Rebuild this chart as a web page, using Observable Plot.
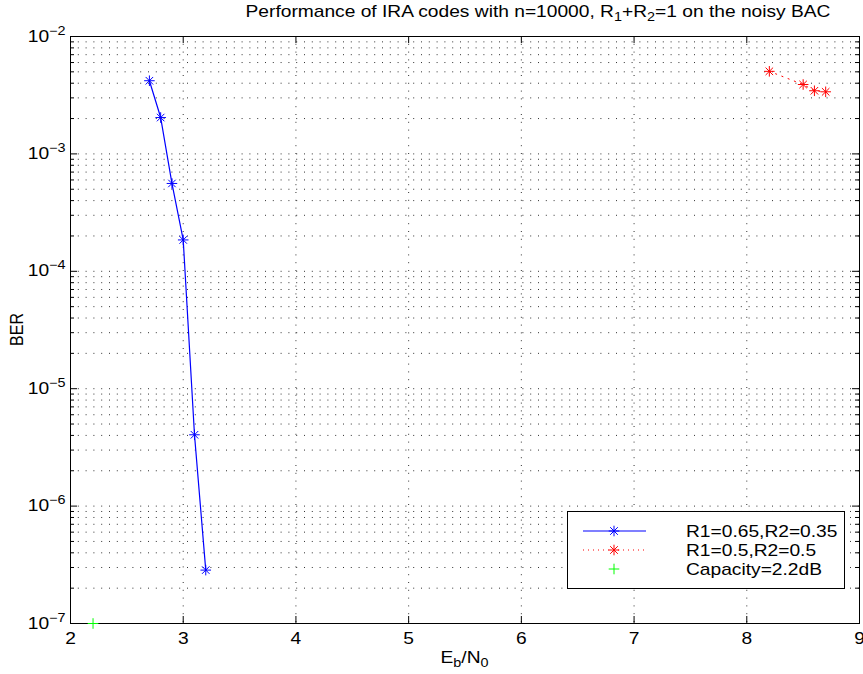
<!DOCTYPE html>
<html>
<head>
<meta charset="utf-8">
<script src="https://cdn.jsdelivr.net/npm/d3@7"></script>
<script src="https://cdn.jsdelivr.net/npm/@observablehq/plot@0.6"></script>
<style>
  body { margin: 0; background: #fff; }
  #chart svg { display: block; }
</style>
</head>
<body>
<div id="chart"></div>
<script>
// Eb/N0 (dB) and bit error rate of the two IRA code designs
const ebn0A = [2.7, 2.8, 2.9, 3.0, 3.1, 3.2];
const berA  = [4.2e-3, 2.04e-3, 5.6e-4, 1.85e-4, 4.05e-6, 2.85e-7];
const ebn0B = [8.2, 8.5, 8.6, 8.7];
const berB  = [5.05e-3, 3.9e-3, 3.45e-3, 3.38e-3];
// capacity limit marker
const capEbn0 = [2.2];
const capBer  = [1e-7];

const seriesNames = ["R1=0.65,R2=0.35", "R1=0.5,R2=0.5", "Capacity=2.2dB"];
const seriesColors = ["#0000ff", "#ff0000", "#00ff00"];

const xTicks = [2, 3, 4, 5, 6, 7, 8, 9];
const yDecades = [1e-7, 1e-6, 1e-5, 1e-4, 1e-3, 1e-2];
const yExponents = ["\u22127", "\u22126", "\u22125", "\u22124", "\u22123", "\u22122"];
const minorSteps = [2, 3, 4, 5, 6, 7, 8, 9];

const W = 863, H = 674;
const M = {top: 36, right: 4, bottom: 51, left: 70};
const plotW = W - M.left - M.right;
const plotH = H - M.top - M.bottom;
const FONT = "'Liberation Sans', Arial, Helvetica, sans-serif";
const FS = 16, FS_SMALL = 12;
const STRETCH = 1.2;

const rowsA = ebn0A.map((x, i) => ({x, y: berA[i]}));
const rowsB = ebn0B.map((x, i) => ({x, y: berB[i]}));
const rowsC = capEbn0.map((x, i) => ({x, y: capBer[i]}));

const yMinor = yDecades.slice(0, -1).flatMap(d => minorSteps.map(m => m * d));
const yGrid = [...yDecades.slice(1, -1), ...yMinor];
const xGrid = xTicks.slice(1, -1);

const dotted = {stroke: "#333", strokeWidth: 1, strokeDasharray: "1,6.8"};
const R = 3.5;

// MATLAB-style "*" marker: a plus and a cross on top of each other
const star = (data, color) => [
  Plot.dot(data, {x: "x", y: "y", symbol: "plus", r: R, stroke: color, strokeWidth: 1}),
  Plot.dot(data, {x: "x", y: "y", symbol: "times", r: R, stroke: color, strokeWidth: 1})
];

// legend box in the lower right corner of the axes
function legend(index, scales, values, dims) {
  const g = d3.create("svg:g").attr("text-anchor", "start");
  const bw = 277, bh = 77;
  const bx = dims.width - dims.marginRight - 15 - bw;
  const by = dims.height - dims.marginBottom - 35 - bh;
  g.append("rect").attr("x", bx + 0.5).attr("y", by + 0.5).attr("width", bw).attr("height", bh)
    .attr("fill", "#fff").attr("stroke", "#000").attr("stroke-width", 1);
  const rows = [20, 39, 58];
  const lx1 = bx + 16, lx2 = bx + 79, mx = bx + 47, tx = bx + 119;
  const sym = (cx, cy, color, cross) => {
    const r = 5.3;
    g.append("path").attr("d", `M${cx - r},${cy}H${cx + r}M${cx},${cy - r}V${cy + r}`)
      .attr("stroke", color).attr("fill", "none");
    if (cross) {
      const q = r * 0.72;
      g.append("path").attr("d", `M${cx - q},${cy - q}L${cx + q},${cy + q}M${cx - q},${cy + q}L${cx + q},${cy - q}`)
        .attr("stroke", color).attr("fill", "none");
    }
  };
  // solid line
  g.append("line").attr("x1", lx1).attr("x2", lx2).attr("y1", by + rows[0]).attr("y2", by + rows[0])
    .attr("stroke", seriesColors[0]).attr("stroke-width", 1.2);
  sym(mx, by + rows[0], seriesColors[0], true);
  // dotted line
  g.append("line").attr("x1", lx1).attr("x2", lx2).attr("y1", by + rows[1]).attr("y2", by + rows[1])
    .attr("stroke", seriesColors[1]).attr("stroke-width", 1).attr("stroke-dasharray", "1,4");
  sym(mx, by + rows[1], seriesColors[1], true);
  sym(mx, by + rows[2], seriesColors[2], false);
  seriesNames.forEach((name, i) => {
    g.append("text").attr("transform", `translate(${tx},${by + rows[i] + 5.8}) scale(${STRETCH},1)`)
      .attr("text-anchor", "start")
      .attr("font-size", FS).attr("fill", "#000").text(name);
  });
  return g.node();
}

const chart = Plot.plot({
  width: W,
  height: H,
  marginTop: M.top,
  marginRight: M.right,
  marginBottom: M.bottom,
  marginLeft: M.left,
  style: {fontFamily: FONT, fontSize: FS + "px", color: "#000", background: "#fff"},
  x: {domain: [2, 9]},
  y: {type: "log", domain: [1e-7, 1e-2]},
  marks: [
    Plot.ruleY(yGrid, dotted),
    Plot.ruleX(xGrid, dotted),
    // inward ticks on all four sides
    Plot.tickY(yDecades, {insetRight: plotW - 7, stroke: "#000"}),
    Plot.tickY(yDecades, {insetLeft: plotW - 7, stroke: "#000"}),
    Plot.tickY(yMinor, {insetRight: plotW - 4, stroke: "#000"}),
    Plot.tickY(yMinor, {insetLeft: plotW - 4, stroke: "#000"}),
    Plot.tickX(xTicks, {insetTop: plotH - 7, stroke: "#000"}),
    Plot.tickX(xTicks, {insetBottom: plotH - 7, stroke: "#000"}),
    Plot.frame({stroke: "#000", strokeWidth: 1}),
    Plot.axisX(xTicks, {tickSize: 0, tickPadding: 9, fontSize: FS, label: null, tickFormat: d => String(d)}),
    Plot.axisY(yDecades, {
      tickSize: 0, tickPadding: 5, fontSize: FS, label: null,
      tickFormat: d => "10^" + yExponents[yDecades.indexOf(d)]
    }),
    Plot.line(rowsA, {x: "x", y: "y", stroke: seriesColors[0], strokeWidth: 1.2}),
    ...star(rowsA, seriesColors[0]),
    Plot.line(rowsB, {x: "x", y: "y", stroke: seriesColors[1], strokeWidth: 1, strokeDasharray: "1.2,5.5"}),
    ...star(rowsB, seriesColors[1]),
    Plot.dot(rowsC, {x: "x", y: "y", symbol: "plus", r: R, stroke: seriesColors[2], strokeWidth: 1}),
    legend
  ]
});

const ns = "http://www.w3.org/2000/svg";
const svg = chart.tagName.toLowerCase() === "svg" ? chart : chart.querySelector("svg");

// superscript exponents on the decade labels
svg.querySelectorAll('g[aria-label="y-axis tick label"] text').forEach(t => {
  const [base, exp] = t.textContent.split("^");
  t.textContent = base;
  const s = document.createElementNS(ns, "tspan");
  s.setAttribute("dy", "-7");
  s.setAttribute("font-size", FS_SMALL);
  s.textContent = exp;
  t.appendChild(s);
});

// widen the axis tick labels to the figure's text aspect
svg.querySelectorAll('g[aria-label="y-axis tick label"] text, g[aria-label="x-axis tick label"] text').forEach(t => {
  t.setAttribute("transform", (t.getAttribute("transform") || "") + ` scale(${STRETCH},1)`);
});

// helper for text with sub/superscript pieces: [text, shift]
function richText(parent, parts, transform, anchor) {
  const t = d3.select(parent).append("text")
    .attr("transform", transform)
    .attr("text-anchor", anchor)
    .attr("font-size", FS)
    .attr("fill", "#000");
  let cur = 0;
  parts.forEach(([s, shift]) => {
    const sp = t.append("tspan").attr("dy", shift - cur).text(s);
    if (shift !== 0) sp.attr("font-size", FS_SMALL);
    cur = shift;
  });
  return t;
}

richText(svg, [["Performance of IRA codes with n=10000, R", 0], ["1", 4], ["+R", 0], ["2", 4], ["=1 on the noisy BAC", 0]],
  `translate(538,17) scale(${STRETCH},1)`, "middle");
richText(svg, [["E", 0], ["b", 4], ["/N", 0], ["0", 4]],
  `translate(${M.left + plotW / 2},663) scale(${STRETCH},1)`, "middle");
richText(svg, [["BER", 0]],
  `translate(23,${M.top + plotH / 2}) rotate(-90) scale(1,${STRETCH})`, "middle");

document.getElementById("chart").appendChild(chart);
</script>
</body>
</html>
